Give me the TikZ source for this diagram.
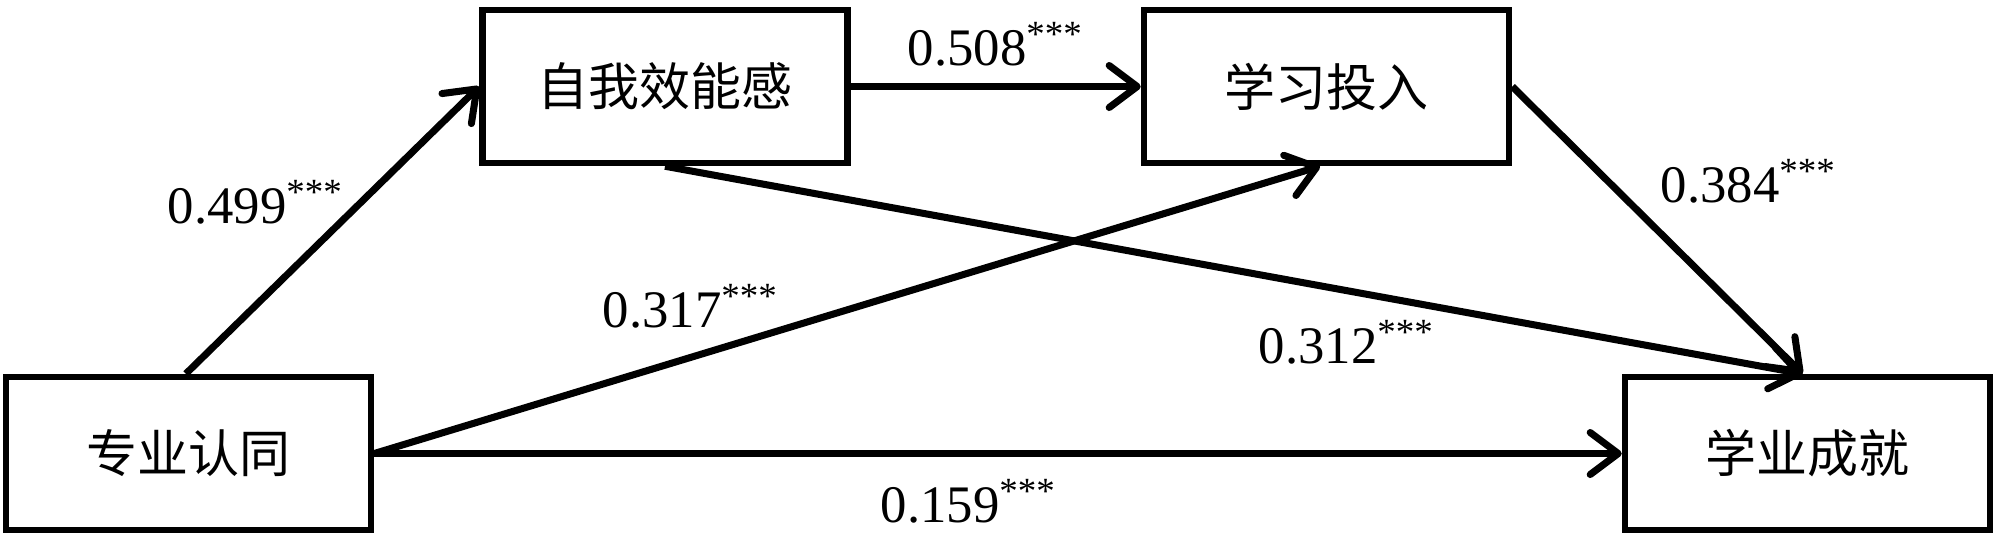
\documentclass[tikz,border=0pt]{standalone}
\usepackage{fontspec}
\setmainfont{Liberation Serif}
\newfontfamily\cjk{Noto Sans CJK SC}
\usetikzlibrary{arrows.meta}
\begin{document}
\begin{tikzpicture}[x=0.01cm,y=-0.01cm,
 box/.style={draw,line width=1.8pt,minimum width=3.65cm,minimum height=1.53cm,inner sep=0pt,font=\cjk\fontsize{14.5}{16}\selectfont},
 arr/.style={line width=2pt,-{Straight Barb[length=0.28cm,width=0.42cm,round]}},
 lab/.style={font=\fontsize{15}{17}\selectfont,inner sep=0pt,anchor=base west}]
\useasboundingbox (0,0) rectangle (2000,541);
\node[box] (A) at (188.5,453.5) {专业认同};
\node[box] (B) at (665,86.5) {自我效能感};
\node[box] (C) at (1326.5,86.5) {学习投入};
\node[box] (D) at (1807.5,453.5) {学业成就};
\draw[arr] ([xshift=1.83cm]A.north west) -- (B.west);
\draw[arr] (B.east) -- (C.west);
\draw[arr] (A.east) -- ([xshift=-0.065cm]C.south);
\draw[arr] (B.south) -- ([xshift=-0.05cm]D.north);
\draw[arr] (C.east) -- ([xshift=-0.05cm]D.north);
\draw[arr] (A.east) -- (D.west);
\node[lab] (l1) at (167,223) {0.499\textsuperscript{***}};
\node[lab] (l2) at (907,65) {0.508\textsuperscript{***}};
\node[lab] (l3) at (602,327) {0.317\textsuperscript{***}};
\node[lab] (l4) at (1258,363) {0.312\textsuperscript{***}};
\node[lab] (l5) at (1660,202) {0.384\textsuperscript{***}};
\node[lab] (l6) at (880,522) {0.159\textsuperscript{***}};
\end{tikzpicture}
\end{document}
